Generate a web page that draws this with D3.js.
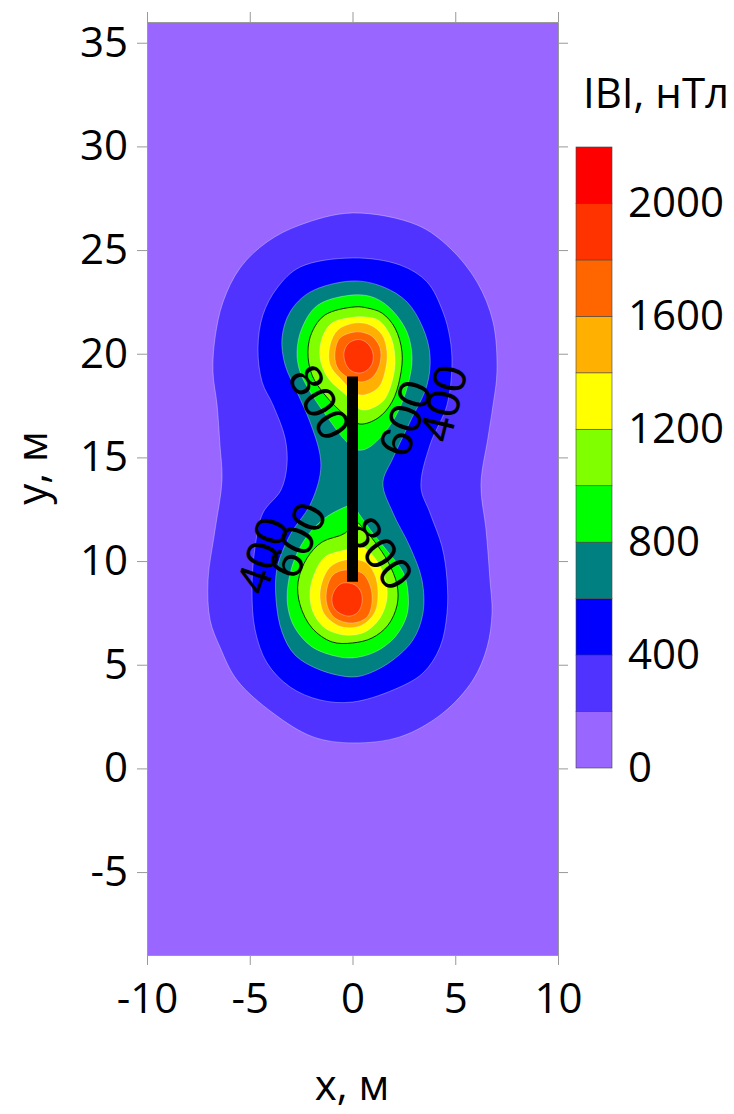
<!DOCTYPE html>
<html>
<head>
<meta charset="utf-8">
<script src="https://cdn.jsdelivr.net/npm/d3@7"></script>
<style>
  body { margin: 0; background: #fff; }
  svg { display: block; font-family: "Open Sans", sans-serif; }
  .axis text { font-size: 42px; fill: #000; font-family: "Open Sans", sans-serif; }
  .axis line, .axis path { stroke: #999; stroke-width: 1; }
</style>
</head>
<body>
<svg class="chart"></svg>
<script>
// axis ticks
var xTicks = [-10, -5, 0, 5, 10];
var yTicks = [-5, 0, 5, 10, 15, 20, 25, 30, 35];

// |B| levels (nT) and their fill colours
var levels = [0, 200, 400, 600, 800, 1000, 1200, 1400, 1600, 1800, 2000, 2200];
var levelColors = ["#9966ff", "#5033ff", "#0000ff", "#008080", "#00ff00", "#80ff00",
                   "#ffff00", "#ffb000", "#ff6600", "#ff3300", "#ff0000"];
var colorbarTicks = [0, 400, 800, 1200, 1600, 2000];

// conductor (x, y1, y2), m
var conductor = [0, 9.0, 18.9];

// contour outlines [x, y] in m
var c200 = [[0,26.79],[-2.55,26.21],[-4.16,25.39],[-5.47,24.14],[-6.30,22.50],[-6.69,20.76],
  [-6.79,19.12],[-6.59,17.53],[-6.45,15.60],[-6.35,13.91],[-6.69,11.50],[-7.03,9.09],
  [-6.93,7.16],[-6.45,5.85],[-5.62,4.26],[-3.87,2.67],[-1.92,1.52],[0,1.23],[2.31,1.52],
  [4.40,2.67],[5.86,4.26],[6.55,5.85],[6.79,7.49],[6.69,9.09],[6.50,11.50],[6.25,13.67],
  [6.59,15.93],[6.84,17.53],[7.03,19.12],[6.84,21.53],[6.06,23.46],[4.74,25.10],[3.14,26.21]];
var c400 = [[0,24.62],[-2.55,24.18],[-3.67,23.17],[-4.36,21.87],[-4.60,20.28],[-4.40,18.64],
  [-3.87,17.53],[-3.28,15.93],[-3.19,14.63],[-3.48,13.43],[-4.36,12.32],[-4.74,10.68],
  [-4.89,8.61],[-4.74,6.68],[-4.16,5.09],[-3.04,3.93],[-1.58,3.30],[0,3.20],[1.97,3.78],
  [3.43,4.60],[4.26,5.85],[4.60,7.49],[4.60,9.09],[4.36,10.68],[3.77,12.32],[3.33,13.57],
  [3.77,15.60],[4.60,17.53],[4.84,19.46],[4.74,20.76],[4.40,22.02],[3.63,23.46],[2.31,24.28]];
var c600 = [[0,23.51],[-2.07,22.97],[-3.04,22.01],[-3.43,20.76],[-3.28,19.46],[-2.70,18.15],
  [-2.07,16.71],[-1.58,15.12],[-1.58,14.15],[-2.07,12.70],[-3.04,11.26],[-3.67,9.67],
  [-3.72,8.12],[-3.43,6.58],[-2.80,5.47],[-1.58,4.75],[0,4.41],[0.85,4.60],[1.97,5.23],
  [2.94,6.19],[3.43,7.49],[3.38,9.09],[2.80,10.68],[1.97,12.32],[1.48,13.76],[1.97,14.97],
  [2.80,16.71],[3.63,18.50],[3.77,19.94],[3.43,21.24],[2.65,22.50],[1.48,23.23]];
var c800top = [[0.12,22.84],[-1.68,22.35],[-2.46,21.24],[-2.70,20.08],[-2.55,19.12],[-1.97,18.01],
  [-1.19,16.90],[-0.46,15.93],[0.22,15.36],[0.75,15.45],[1.58,16.22],[2.21,17.19],[2.70,18.50],
  [2.90,19.80],[2.65,21.05],[1.92,22.11],[1.09,22.69]];
var c800bot = [[-0.36,12.61],[-1.34,12.08],[-2.17,11.26],[-2.80,10.15],[-3.14,8.85],[-3.14,7.74],
  [-2.80,6.77],[-1.97,5.86],[-0.85,5.42],[0,5.33],[1.09,5.61],[2.07,6.34],[2.65,7.40],
  [2.70,8.51],[2.46,9.47],[1.73,10.44],[0.95,11.40],[0.36,12.22],[0,12.70]];
var c1000top = [[0.12,22.26],[-1.34,21.87],[-1.97,21.05],[-2.17,20.08],[-1.97,18.97],[-1.34,18.01],
  [-0.36,17.04],[0.36,16.61],[1.24,16.90],[1.92,17.67],[2.31,18.83],[2.41,20.08],[2.07,21.24],
  [1.44,21.96],[0.75,22.20]];
var c1000bot = [[-0.36,11.35],[-1.48,10.92],[-2.21,10.15],[-2.65,8.99],[-2.55,7.88],[-1.97,6.77],
  [-1.00,6.10],[0,6.05],[0.95,6.29],[1.73,6.91],[2.17,7.88],[2.17,8.85],[1.73,9.96],
  [1.09,10.92],[0.46,11.65],[0.12,11.93]];
var c1200top = [[0.12,21.77],[-1.00,21.48],[-1.48,20.76],[-1.58,19.80],[-1.19,18.83],[-0.32,18.01],
  [0.46,17.29],[1.44,17.67],[1.92,18.64],[2.07,19.80],[1.82,20.91],[1.24,21.63],[0.61,21.77]];
var c1200bot = [[-0.36,10.53],[-1.34,10.20],[-1.82,9.47],[-2.07,8.51],[-1.92,7.54],[-1.34,6.77],
  [-0.36,6.43],[0.61,6.58],[1.34,7.25],[1.68,8.22],[1.58,9.18],[1.09,10.15],[0.46,10.68]];
var c1400top = [[0.12,21.48],[-0.71,21.15],[-1.09,20.42],[-1.09,19.46],[-0.61,18.83],[0.36,18.01],
  [1.24,18.35],[1.58,19.12],[1.68,20.08],[1.44,20.91],[0.85,21.39]];
var c1400bot = [[-0.36,10.05],[-1.09,9.71],[-1.48,8.99],[-1.58,8.22],[-1.34,7.40],[-0.51,6.82],
  [0.46,6.91],[1.09,7.54],[1.24,8.46],[1.09,9.33],[0.61,9.95]];
var c1600top = [[0.12,21.05],[-0.61,20.76],[-0.85,20.08],[-0.75,19.36],[-0.27,18.88],[0.46,18.64],
  [0.99,18.88],[1.34,19.55],[1.34,20.28],[0.99,20.81],[0.61,21.00]];
var c1600bot = [[-0.36,9.57],[-0.95,9.33],[-1.24,8.70],[-1.24,7.88],[-0.85,7.25],[0,7.01],
  [0.71,7.30],[0.95,8.02],[0.85,8.84],[0.46,9.42]];
var c1800top = [[0.12,20.66],[-0.22,20.47],[-0.41,20.08],[-0.36,19.60],[-0.12,19.22],[0.27,19.07],
  [0.66,19.17],[0.95,19.51],[1.00,19.99],[0.80,20.42],[0.46,20.66]];
var c1800bot = [[-0.46,8.94],[-0.80,8.70],[-1.00,8.22],[-0.90,7.74],[-0.56,7.45],[-0.12,7.35],
  [0.27,7.54],[0.46,7.98],[0.41,8.51],[0.12,8.85]];

// contour labels: value, x, y (m), rotation
var labelValues = [800, 600, 400, 400, 600, 800];
var labelX = [-1.57, 2.55, 4.40, -4.40, -2.70, 1.39];
var labelY = [17.67, 16.90, 17.62, 10.29, 11.02, 10.39];
var labelAngle = [60, -70, -76, -71, -65, 54];

WIDTH = 734;
HEIGHT = 1114;
PLOT = { left: 147, right: 558, top: 22, bottom: 955 };
CBAR = { left: 576, width: 36, top: 147, bottom: 768 };

var svg = d3.select(".chart").attr("width", WIDTH).attr("height", HEIGHT);

var x = d3.scaleLinear().domain([-10, 10]).range([PLOT.left, PLOT.right]);
var y = d3.scaleLinear().domain([-9, 36]).range([PLOT.bottom, PLOT.top]);
var fmt = function(d) { return String(d); };   // plain hyphen, no thousands comma

function colorOf(level) { return levelColors[levels.indexOf(level)]; }

// background band (0-200)
svg.append("rect")
    .attr("x", PLOT.left).attr("y", PLOT.top)
    .attr("width", PLOT.right - PLOT.left)
    .attr("height", PLOT.bottom - PLOT.top)
    .attr("fill", levelColors[0]);

var bands = [
    { level: 200, ring: c200 }, { level: 400, ring: c400 }, { level: 600, ring: c600 },
    { level: 800, ring: c800top }, { level: 800, ring: c800bot },
    { level: 1000, ring: c1000top }, { level: 1000, ring: c1000bot },
    { level: 1200, ring: c1200top }, { level: 1200, ring: c1200bot },
    { level: 1400, ring: c1400top }, { level: 1400, ring: c1400bot },
    { level: 1600, ring: c1600top }, { level: 1600, ring: c1600bot },
    { level: 1800, ring: c1800top }, { level: 1800, ring: c1800bot }
];

var line = d3.line()
    .curve(d3.curveCatmullRomClosed.alpha(0.5))
    .x(function(d) { return x(d[0]); })
    .y(function(d) { return y(d[1]); });

svg.append("g").selectAll("path")
    .data(bands)
    .enter().append("path")
    .attr("d", function(d) { return line(d.ring); })
    .attr("fill", function(d) { return colorOf(d.level); })
    .attr("stroke", function(d) { return d.level == 1000 ? "#000" : "rgba(255,255,255,0.45)"; })
    .attr("stroke-width", function(d) { return d.level == 1000 ? 0.8 : 0.7; });

// conductor
svg.append("line")
    .attr("x1", x(conductor[0])).attr("x2", x(conductor[0]))
    .attr("y1", y(conductor[1])).attr("y2", y(conductor[2]))
    .attr("stroke", "#000").attr("stroke-width", 11);

// contour labels
svg.append("g").selectAll("text")
    .data(labelValues)
    .enter().append("text")
    .attr("transform", function(d, i) {
        return "translate(" + x(labelX[i]) + "," + y(labelY[i]) + ") rotate(" + labelAngle[i] + ")";
    })
    .attr("text-anchor", "middle")
    .attr("dy", "0.36em")
    .style("font", "46px 'Liberation Sans', sans-serif")
    .text(function(d) { return d; });

// axes
svg.append("g").attr("class", "axis")
    .attr("transform", "translate(0," + PLOT.bottom + ")")
    .call(d3.axisBottom(x).tickValues(xTicks).tickFormat(fmt)
        .tickSize(10).tickSizeOuter(0).tickPadding(18));
svg.append("g").attr("class", "axis")
    .attr("transform", "translate(0," + PLOT.top + ")")
    .call(d3.axisTop(x).tickValues(xTicks).tickSize(10).tickSizeOuter(0).tickFormat(""));
svg.append("g").attr("class", "axis")
    .attr("transform", "translate(" + PLOT.left + ",0)")
    .call(d3.axisLeft(y).tickValues(yTicks).tickFormat(fmt)
        .tickSize(10).tickSizeOuter(0).tickPadding(9));
svg.append("g").attr("class", "axis")
    .attr("transform", "translate(" + PLOT.right + ",0)")
    .call(d3.axisRight(y).tickValues(yTicks).tickSize(10).tickSizeOuter(0).tickFormat(""));

svg.append("text")
    .attr("transform", "translate(47,468) rotate(-90)")
    .attr("text-anchor", "middle")
    .style("font-size", "42px")
    .text("y, м");
svg.append("text")
    .attr("x", 352).attr("y", 1100)
    .attr("text-anchor", "middle")
    .style("font-size", "42px")
    .text("x, м");

// colour bar
var cb = d3.scaleLinear().domain([0, 2200]).range([CBAR.bottom, CBAR.top]);
var boxes = levels.slice(0, -1);
svg.append("g").selectAll("rect")
    .data(boxes)
    .enter().append("rect")
    .attr("x", CBAR.left)
    .attr("y", function(d, i) { return cb(levels[i + 1]); })
    .attr("width", CBAR.width)
    .attr("height", function(d, i) { return cb(d) - cb(levels[i + 1]); })
    .attr("fill", function(d, i) { return levelColors[i]; })
    .attr("stroke", "#444").attr("stroke-width", 0.6);

var cbAxis = svg.append("g").attr("class", "axis")
    .attr("transform", "translate(" + (CBAR.left + CBAR.width) + ",0)")
    .call(d3.axisRight(cb).tickValues(colorbarTicks).tickFormat(fmt).tickSize(0).tickPadding(16));
cbAxis.select(".domain").remove();

svg.append("text")
    .attr("x", 583).attr("y", 108)
    .style("font-size", "42px")
    .text("IBI, нТл");
</script>
</body>
</html>
